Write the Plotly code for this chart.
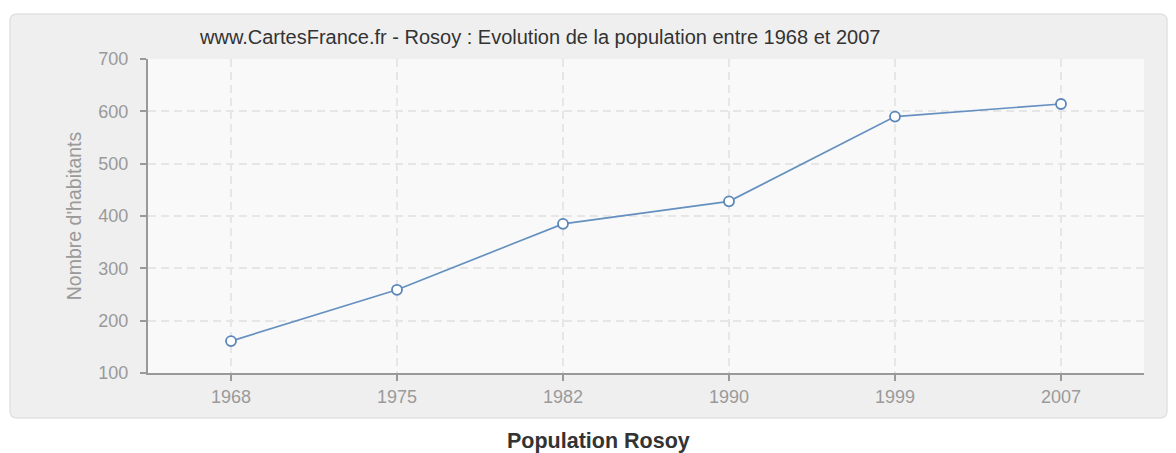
import plotly.graph_objects as go

years = ["1968", "1975", "1982", "1990", "1999", "2007"]
population = [161, 259, 385, 428, 590, 614]
y_ticks = [100, 200, 300, 400, 500, 600, 700]

W, H = 1176, 453
L, R, T, B = 148, 32, 59, 80
pw, ph = W - L - R, H - T - B


def px_x(x):
    return (x - L) / pw


def px_y(y):
    return (H - B - y) / ph


# rounded panel path (paper coords)
x0, x1 = px_x(10), px_x(1167)
y0, y1 = px_y(418), px_y(14)
rx, ry = 7 / pw, 7 / ph
path = (f"M {x0+rx},{y1} L {x1-rx},{y1} Q {x1},{y1} {x1},{y1-ry} "
        f"L {x1},{y0+ry} Q {x1},{y0} {x1-rx},{y0} L {x0+rx},{y0} "
        f"Q {x0},{y0} {x0},{y0+ry} L {x0},{y1-ry} Q {x0},{y1} {x0+rx},{y1} Z")

fig = go.Figure()
fig.add_trace(go.Scatter(
    x=years, y=population, mode="lines+markers",
    line=dict(color="#6590c0", width=1.7),
    marker=dict(symbol="circle", size=10, color="white",
                line=dict(color="#5a86b8", width=1.8)),
    hoverinfo="x+y", showlegend=False,
))

fig.update_layout(
    width=W, height=H,
    margin=dict(l=L, r=R, t=T, b=B),
    paper_bgcolor="white",
    plot_bgcolor="#f8f8f8",
    font=dict(family="Liberation Sans", color="#999999"),
    shapes=[
        dict(type="path", path=path, xref="paper", yref="paper",
             fillcolor="#efefef", line=dict(color="#e2e2e2", width=1.5),
             layer="below"),
        dict(type="rect", x0=0, x1=1, y0=0, y1=1, xref="paper", yref="paper",
             fillcolor="#f9f9f9", line=dict(width=0), layer="below"),
    ],
    annotations=[
        dict(text="www.CartesFrance.fr - Rosoy : Evolution de la population entre 1968 et 2007",
             x=px_x(539), y=px_y(37), xref="paper", yref="paper",
             showarrow=False, xanchor="center", yanchor="middle",
             font=dict(size=20, color="#333333", family="Liberation Sans")),
        dict(text="<b>Population Rosoy</b>",
             x=px_x(598), y=px_y(441), xref="paper", yref="paper",
             showarrow=False, xanchor="center", yanchor="middle",
             font=dict(size=21.5, color="#333333", family="Liberation Sans")),
    ],
    xaxis=dict(
        type="category", range=[-0.5, 5.5],
        showline=True, linecolor="#999999", linewidth=2,
        ticks="outside", ticklen=6, tickcolor="#999999", tickwidth=1.5,
        showgrid=True, gridcolor="#e6e6e6", griddash="8px,5px", gridwidth=1.5,
        tickfont=dict(size=18, color="#9a9a9a"),
        zeroline=False, fixedrange=True,
    ),
    yaxis=dict(
        range=[100, 700], tickvals=y_ticks,
        showline=True, linecolor="#999999", linewidth=2,
        ticks="outside", ticklen=6, tickcolor="#999999", tickwidth=1.5,
        ticklabelstandoff=8,
        showgrid=True, gridcolor="#e6e6e6", griddash="8px,5px", gridwidth=1.5,
        tickfont=dict(size=18, color="#9a9a9a"),
        title=dict(text="Nombre d'habitants", font=dict(size=19.5, color="#9a9a9a"),
                   standoff=12),
        zeroline=False, fixedrange=True,
    ),
)

fig.write_html("out.html",
               config={"displayModeBar": False},
               post_script="document.body.style.margin='0';document.body.style.overflow='hidden';")
